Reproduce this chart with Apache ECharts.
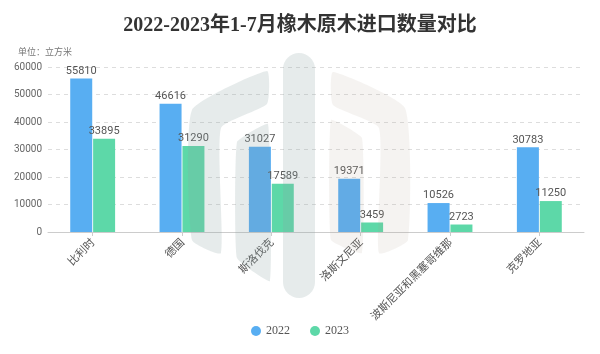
<!DOCTYPE html>
<html><head><meta charset="utf-8">
<script src="https://cdn.jsdelivr.net/npm/echarts@6/dist/echarts.min.js"></script>
<style>html,body{margin:0;padding:0;background:#fff}#c{width:600px;height:354px}</style>
</head><body><div id="c"></div>
<script>
const categories = ['比利时','德国','斯洛伐克','洛斯文尼亚','波斯尼亚和黑塞哥维那','克罗地亚'];
const values2022 = [55810, 46616, 31027, 19371, 10526, 30783];
const values2023 = [33895, 31290, 17589, 3459, 2723, 11250];
const seriesNames = ['2022', '2023'];
const yTicks = [0, 10000, 20000, 30000, 40000, 50000, 60000];

const chart = echarts.init(document.getElementById('c'));
const wm = 'rgba(140,165,165,0.22)';
const wm2 = 'rgba(170,160,140,0.12)';
chart.setOption({
  animation: false,
  title: [{
    text: '2022-2023年1-7月橡木原木进口数量对比',
    left: 'center', top: 11,
    textStyle: {fontFamily: '"Liberation Serif", "Noto Sans CJK SC", serif', fontWeight: 'bold', fontSize: 20, color: '#333'}
  }, {
    text: '单位：立方米', left: 13, top: 42,
    textStyle: {fontFamily: '"Noto Sans CJK SC", sans-serif', fontWeight: 'normal', fontSize: 9, color: '#777'}
  }],
  graphic: [
    {type: 'polygon', z: 100, silent: true, shape: {points: [[192,110],[267,71],[267,104],[221,128],[221,253],[192,240]], smooth: 0.15}, style: {fill: wm}},
    {type: 'polygon', z: 100, silent: true, shape: {points: [[237,142],[268,124],[270,281],[237,258]], smooth: 0.1}, style: {fill: wm}},
    {type: 'rect', z: 100, silent: true, shape: {x: 283, y: 53, width: 32, height: 245, r: 16}, style: {fill: wm}},
    {type: 'polygon', z: 100, silent: true, shape: {points: [[333,72],[405,108],[408,240],[379,253],[379,128],[333,105]], smooth: 0.15}, style: {fill: wm2}},
    {type: 'polygon', z: 100, silent: true, shape: {points: [[331,120],[362,138],[362,253],[331,240]], smooth: 0.1}, style: {fill: wm2}}
  ],
  legend: {
    bottom: 12, left: 'center', icon: 'circle', itemWidth: 10, itemHeight: 10, itemGap: 20,
    textStyle: {fontFamily: '"Liberation Serif", serif', fontSize: 12, color: '#555'},
    data: seriesNames
  },
  grid: {left: 48, right: 16, top: 67, bottom: 122},
  xAxis: {
    type: 'category', data: categories,
    axisLine: {lineStyle: {color: '#ccc'}},
    axisTick: {show: true, alignWithLabel: true, length: 4, lineStyle: {color: '#ccc'}},
    axisLabel: {rotate: 45, interval: 0, color: '#555', fontSize: 11, fontFamily: '"Noto Sans CJK SC", sans-serif', margin: 8}
  },
  yAxis: {
    type: 'value', min: yTicks[0], max: yTicks[yTicks.length - 1], interval: yTicks[1] - yTicks[0],
    axisLine: {show: false}, axisTick: {show: false},
    axisLabel: {color: '#666', fontSize: 10, fontFamily: 'Roboto, sans-serif', margin: 6, formatter: v => String(v)},
    splitLine: {lineStyle: {type: [4, 4], color: '#ddd'}}
  },
  series: [
    {name: seriesNames[0], type: 'bar', data: values2022, barWidth: 22, barGap: '4%',
     itemStyle: {color: '#58aef2'},
     label: {show: true, position: 'top', color: '#555', fontSize: 11, fontFamily: 'Roboto, sans-serif', distance: 2}},
    {name: seriesNames[1], type: 'bar', data: values2023, barWidth: 22,
     itemStyle: {color: '#5dd8a8'},
     label: {show: true, position: 'top', color: '#555', fontSize: 11, fontFamily: 'Roboto, sans-serif', distance: 2}}
  ]
});
</script></body></html>
